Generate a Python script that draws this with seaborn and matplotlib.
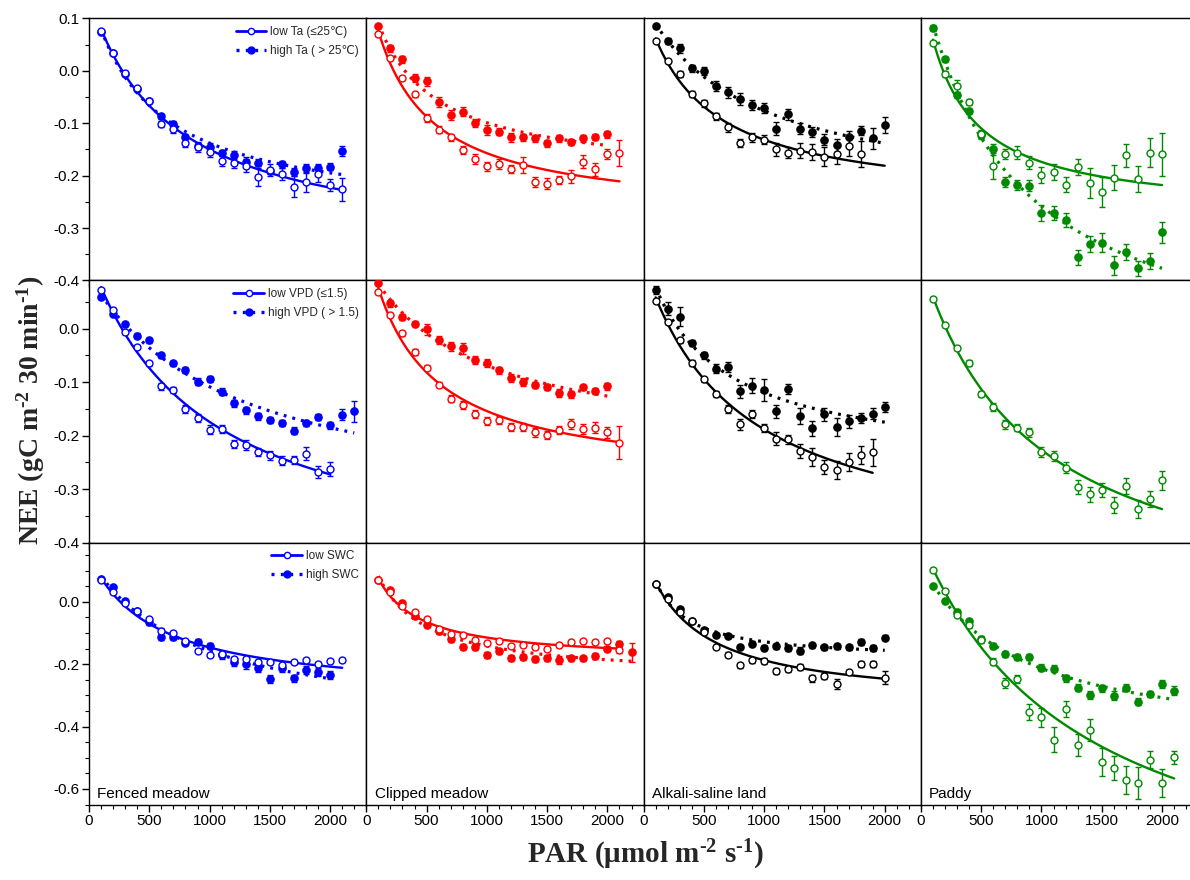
import numpy as np
import matplotlib
matplotlib.use("Agg")
import matplotlib.pyplot as plt
from matplotlib.lines import Line2D
from matplotlib.ticker import MultipleLocator, FormatStrFormatter, NullFormatter
import seaborn as sns

sns.set_theme(style="ticks")
plt.rcParams["font.family"] = ["Liberation Sans", "DejaVu Sans"]
plt.rcParams["axes.unicode_minus"] = False
plt.rcParams["mathtext.default"] = "regular"

# PAR bin centres (umol m-2 s-1)
par = np.arange(100, 2300, 100)

sites = ["Fenced meadow", "Clipped meadow", "Alkali-saline land", "Paddy"]
site_colors = ["#0000ff", "#ff0000", "#000000", "#008a00"]

# ---- air temperature split ----
ta_labels = ["low Ta (\u226425\u2103)", "high Ta ( > 25\u2103)"]
ta_fm_low = [0.076, 0.034, -0.004, -0.033, -0.057, -0.101, -0.110, -0.137, -0.146, -0.154, -0.172,
             -0.175, -0.181, -0.202, -0.189, -0.197, -0.221, -0.212, -0.197, -0.218, -0.226]
ta_fm_low_se = [0.003, 0.003, 0.003, 0.003, 0.004, 0.006, 0.008, 0.008, 0.008, 0.010, 0.010,
                0.010, 0.012, 0.017, 0.012, 0.012, 0.020, 0.020, 0.015, 0.012, 0.022]
ta_fm_high = [0.075, 0.034, -0.005, -0.034, -0.058, -0.087, -0.101, -0.127, -0.143, -0.145, -0.157,
              -0.161, -0.173, -0.175, -0.191, -0.178, -0.193, -0.186, -0.186, -0.183, -0.153]
ta_fm_high_se = [0.003, 0.003, 0.003, 0.004, 0.004, 0.005, 0.005, 0.006, 0.008, 0.007, 0.006,
                 0.008, 0.008, 0.007, 0.006, 0.007, 0.007, 0.008, 0.008, 0.007, 0.010]
ta_cm_low = [0.070, 0.024, -0.014, -0.045, -0.090, -0.112, -0.127, -0.151, -0.168, -0.182, -0.178,
             -0.187, -0.180, -0.212, -0.215, -0.208, -0.201, -0.173, -0.188, -0.159, -0.156]
ta_cm_low_se = [0.003, 0.004, 0.004, 0.005, 0.007, 0.007, 0.007, 0.008, 0.009, 0.009, 0.009,
                0.008, 0.015, 0.009, 0.010, 0.008, 0.012, 0.012, 0.013, 0.009, 0.025]
ta_cm_high = [0.086, 0.043, 0.022, -0.013, -0.020, -0.059, -0.084, -0.078, -0.100, -0.113,
              -0.116, -0.127, -0.127, -0.129, -0.138, -0.129, -0.136, -0.129, -0.126, -0.121]
ta_cm_high_se = [0.004, 0.006, 0.007, 0.008, 0.009, 0.009, 0.010, 0.009, 0.008, 0.010,
                 0.007, 0.008, 0.007, 0.007, 0.007, 0.006, 0.006, 0.006, 0.006, 0.007]
ta_al_low = [0.058, 0.019, -0.006, -0.044, -0.062, -0.087, -0.108, -0.138, -0.127, -0.131,
             -0.150, -0.156, -0.152, -0.155, -0.164, -0.159, -0.143, -0.159]
ta_al_low_se = [0.003, 0.004, 0.005, 0.005, 0.006, 0.006, 0.008, 0.008, 0.008, 0.009,
                0.012, 0.011, 0.015, 0.015, 0.018, 0.018, 0.020, 0.025]
ta_al_high = [0.085, 0.057, 0.043, 0.005, 0.000, -0.029, -0.041, -0.054, -0.065, -0.071,
              -0.110, -0.083, -0.110, -0.117, -0.131, -0.142, -0.127, -0.114, -0.129, -0.103]
ta_al_high_se = [0.004, 0.006, 0.008, 0.007, 0.007, 0.009, 0.010, 0.012, 0.010, 0.010,
                 0.012, 0.010, 0.010, 0.010, 0.010, 0.012, 0.012, 0.009, 0.020, 0.015]
ta_pd_low = [0.053, -0.006, -0.029, -0.059, -0.120, -0.181, -0.159, -0.156, -0.175, -0.198,
             -0.193, -0.217, -0.183, -0.214, -0.231, -0.204, -0.161, -0.207, -0.156, -0.159]
ta_pd_low_se = [0.004, 0.006, 0.012, 0.006, 0.008, 0.025, 0.010, 0.012, 0.012, 0.015,
                0.015, 0.015, 0.015, 0.028, 0.028, 0.024, 0.022, 0.025, 0.028, 0.041]
ta_pd_high = [0.082, 0.022, -0.046, -0.076, -0.122, -0.150, -0.212, -0.218, -0.219, -0.271,
              -0.271, -0.284, -0.356, -0.331, -0.328, -0.371, -0.345, -0.377, -0.363, -0.308]
ta_pd_high_se = [0.006, 0.005, 0.006, 0.006, 0.008, 0.010, 0.010, 0.010, 0.010, 0.015,
                 0.013, 0.013, 0.015, 0.015, 0.018, 0.018, 0.015, 0.015, 0.015, 0.020]

# ---- vapour pressure deficit split ----
vpd_labels = ["low VPD (\u22641.5)", "high VPD ( > 1.5)"]
vpd_fm_low = [0.072, 0.034, -0.006, -0.034, -0.065, -0.108, -0.115, -0.150, -0.167, -0.189,
              -0.188, -0.216, -0.218, -0.231, -0.237, -0.247, -0.246, -0.234, -0.268, -0.262]
vpd_fm_low_se = [0.003, 0.004, 0.004, 0.004, 0.004, 0.006, 0.005, 0.007, 0.007, 0.008,
                 0.007, 0.008, 0.009, 0.008, 0.008, 0.008, 0.008, 0.012, 0.012, 0.013]
vpd_fm_high = [0.059, 0.028, 0.009, -0.013, -0.022, -0.050, -0.065, -0.077, -0.099, -0.094, -0.118,
               -0.140, -0.153, -0.164, -0.171, -0.176, -0.191, -0.176, -0.165, -0.181, -0.161, -0.155]
vpd_fm_high_se = [0.004, 0.004, 0.004, 0.004, 0.005, 0.005, 0.005, 0.006, 0.007, 0.005, 0.007,
                  0.007, 0.007, 0.007, 0.006, 0.006, 0.007, 0.006, 0.006, 0.007, 0.010, 0.020]
vpd_cm_low = [0.068, 0.026, -0.009, -0.044, -0.073, -0.105, -0.131, -0.143, -0.160, -0.173, -0.171,
              -0.184, -0.184, -0.194, -0.199, -0.190, -0.178, -0.188, -0.185, -0.194, -0.213]
vpd_cm_low_se = [0.004, 0.004, 0.005, 0.005, 0.005, 0.005, 0.007, 0.007, 0.007, 0.007, 0.007,
                 0.007, 0.008, 0.008, 0.007, 0.008, 0.009, 0.009, 0.010, 0.010, 0.030]
vpd_cm_high = [0.085, 0.047, 0.022, 0.009, -0.001, -0.021, -0.033, -0.037, -0.059, -0.064,
               -0.078, -0.092, -0.100, -0.105, -0.109, -0.120, -0.123, -0.110, -0.117, -0.108]
vpd_cm_high_se = [0.004, 0.006, 0.005, 0.005, 0.010, 0.008, 0.008, 0.010, 0.008, 0.008,
                  0.007, 0.008, 0.007, 0.006, 0.005, 0.007, 0.007, 0.005, 0.006, 0.006]
vpd_al_low = [0.052, 0.012, -0.022, -0.064, -0.095, -0.122, -0.150, -0.179, -0.160, -0.186,
              -0.206, -0.207, -0.229, -0.240, -0.259, -0.264, -0.250, -0.237, -0.231]
vpd_al_low_se = [0.003, 0.004, 0.004, 0.005, 0.005, 0.005, 0.007, 0.010, 0.008, 0.008,
                 0.012, 0.008, 0.013, 0.016, 0.013, 0.017, 0.017, 0.017, 0.025]
vpd_al_high = [0.072, 0.037, 0.022, -0.027, -0.050, -0.075, -0.072, -0.117, -0.107, -0.115,
               -0.155, -0.113, -0.163, -0.186, -0.160, -0.184, -0.173, -0.167, -0.159, -0.147]
vpd_al_high_se = [0.008, 0.012, 0.018, 0.006, 0.007, 0.008, 0.010, 0.012, 0.014, 0.020,
                  0.012, 0.010, 0.015, 0.014, 0.012, 0.017, 0.012, 0.010, 0.010, 0.009]
vpd_pd_low = [0.056, 0.006, -0.036, -0.064, -0.122, -0.147, -0.179, -0.185, -0.194, -0.231,
              -0.238, -0.260, -0.296, -0.310, -0.302, -0.330, -0.295, -0.338, -0.319, -0.284]
vpd_pd_low_se = [0.003, 0.003, 0.004, 0.005, 0.006, 0.007, 0.008, 0.007, 0.009, 0.010,
                 0.010, 0.010, 0.013, 0.014, 0.013, 0.015, 0.015, 0.017, 0.015, 0.018]

# ---- soil water content split ----
swc_labels = ["low SWC", "high SWC"]
swc_fm_low = [0.069, 0.030, -0.005, -0.029, -0.056, -0.093, -0.101, -0.125, -0.157, -0.170, -0.166,
              -0.184, -0.184, -0.194, -0.192, -0.202, -0.194, -0.187, -0.200, -0.191, -0.187]
swc_fm_low_se = [0.003, 0.004, 0.005, 0.005, 0.005, 0.008, 0.006, 0.006, 0.006, 0.006, 0.006,
                 0.008, 0.008, 0.008, 0.006, 0.006, 0.006, 0.006, 0.006, 0.006, 0.006]
swc_fm_high = [0.072, 0.048, 0.003, -0.029, -0.066, -0.112, -0.114, -0.132, -0.128, -0.141,
               -0.170, -0.192, -0.200, -0.211, -0.248, -0.213, -0.246, -0.218, -0.226, -0.234]
swc_fm_high_se = [0.004, 0.005, 0.006, 0.006, 0.007, 0.012, 0.010, 0.008, 0.008, 0.010,
                  0.012, 0.014, 0.014, 0.015, 0.012, 0.013, 0.012, 0.013, 0.013, 0.013]
swc_cm_low = [0.069, 0.030, -0.013, -0.034, -0.056, -0.088, -0.104, -0.107, -0.122, -0.132, -0.125,
              -0.141, -0.138, -0.146, -0.150, -0.138, -0.130, -0.125, -0.128, -0.125, -0.155]
swc_cm_low_se = [0.003, 0.004, 0.005, 0.005, 0.005, 0.008, 0.006, 0.006, 0.006, 0.006, 0.006,
                 0.006, 0.006, 0.006, 0.006, 0.006, 0.006, 0.006, 0.006, 0.006, 0.008]
swc_cm_high = [0.069, 0.037, -0.005, -0.045, -0.074, -0.093, -0.120, -0.144, -0.146, -0.170, -0.159,
               -0.181, -0.176, -0.184, -0.181, -0.187, -0.181, -0.181, -0.175, -0.150, -0.136, -0.162]
swc_cm_high_se = [0.004, 0.006, 0.007, 0.007, 0.008, 0.010, 0.010, 0.008, 0.010, 0.010, 0.008,
                  0.010, 0.010, 0.010, 0.010, 0.012, 0.008, 0.008, 0.010, 0.008, 0.010, 0.030]
swc_al_low = [0.057, 0.009, -0.034, -0.063, -0.098, -0.144, -0.170, -0.203, -0.187, -0.191,
              -0.223, -0.216, -0.208, -0.246, -0.237, -0.264, -0.226, -0.200, -0.200, -0.243]
swc_al_low_se = [0.003, 0.004, 0.004, 0.005, 0.005, 0.006, 0.008, 0.008, 0.008, 0.010,
                 0.010, 0.010, 0.010, 0.012, 0.010, 0.015, 0.006, 0.010, 0.010, 0.020]
swc_al_high = [0.057, 0.014, -0.023, -0.061, -0.090, -0.106, -0.109, -0.146, -0.134, -0.148,
               -0.143, -0.148, -0.157, -0.139, -0.146, -0.143, -0.146, -0.128, -0.148, -0.116]
swc_al_high_se = [0.003, 0.004, 0.005, 0.005, 0.006, 0.006, 0.007, 0.007, 0.008, 0.008,
                  0.008, 0.010, 0.012, 0.008, 0.008, 0.008, 0.008, 0.010, 0.010, 0.008]
swc_pd_low = [0.103, 0.033, -0.042, -0.074, -0.122, -0.192, -0.261, -0.248, -0.353, -0.371, -0.443,
              -0.344, -0.459, -0.411, -0.515, -0.533, -0.571, -0.581, -0.506, -0.582, -0.499]
swc_pd_low_se = [0.004, 0.006, 0.008, 0.010, 0.010, 0.012, 0.015, 0.012, 0.025, 0.030, 0.040,
                 0.025, 0.035, 0.035, 0.045, 0.040, 0.045, 0.050, 0.027, 0.045, 0.020]
swc_pd_high = [0.049, 0.003, -0.032, -0.063, -0.120, -0.141, -0.168, -0.178, -0.178, -0.211, -0.214,
               -0.246, -0.275, -0.299, -0.278, -0.301, -0.275, -0.320, -0.296, -0.264, -0.285]
swc_pd_high_se = [0.004, 0.006, 0.008, 0.009, 0.010, 0.010, 0.010, 0.010, 0.010, 0.012, 0.012,
                  0.010, 0.010, 0.012, 0.012, 0.015, 0.012, 0.010, 0.010, 0.013, 0.015]

# fitted light-response curves run to this PAR when it lies past the last bin
ta_al_low_fit_end = 2000

rows = [
    dict(labels=ta_labels, ylim=(-0.4, 0.1), major=0.1,
         series=[(ta_fm_low, ta_fm_low_se, ta_fm_high, ta_fm_high_se),
                 (ta_cm_low, ta_cm_low_se, ta_cm_high, ta_cm_high_se),
                 (ta_al_low, ta_al_low_se, ta_al_high, ta_al_high_se),
                 (ta_pd_low, ta_pd_low_se, ta_pd_high, ta_pd_high_se)],
         fit_end={(2, 0): ta_al_low_fit_end}),
    dict(labels=vpd_labels, ylim=(-0.4, 0.09), major=0.1,
         series=[(vpd_fm_low, vpd_fm_low_se, vpd_fm_high, vpd_fm_high_se),
                 (vpd_cm_low, vpd_cm_low_se, vpd_cm_high, vpd_cm_high_se),
                 (vpd_al_low, vpd_al_low_se, vpd_al_high, vpd_al_high_se),
                 (vpd_pd_low, vpd_pd_low_se, None, None)],
         fit_end={}),
    dict(labels=swc_labels, ylim=(-0.65, 0.19), major=0.2,
         series=[(swc_fm_low, swc_fm_low_se, swc_fm_high, swc_fm_high_se),
                 (swc_cm_low, swc_cm_low_se, swc_cm_high, swc_cm_high_se),
                 (swc_al_low, swc_al_low_se, swc_al_high, swc_al_high_se),
                 (swc_pd_low, swc_pd_low_se, swc_pd_high, swc_pd_high_se)],
         fit_end={}),
]


def fit_light_response(x, y, se):
    """Weighted least-squares rectangular hyperbola NEE = R - a*P*Pmax/(a*P + Pmax)."""
    w = 1.0 / np.asarray(se)
    a = np.logspace(-5, -1, 200)[:, None, None]
    pm = np.logspace(-2, 1.5, 200)[None, :, None]
    g = a * x * pm / (a * x + pm)
    r = ((y + g) * w).sum(axis=-1, keepdims=True) / w.sum()
    sse = (w * (r - g - y) ** 2).sum(axis=-1)
    i, j = np.unravel_index(np.argmin(sse), sse.shape)
    a_best = a[i, 0, 0]
    pm_best = pm[0, j, 0]
    r_best = r[i, j, 0]
    return lambda p: r_best - a_best * p * pm_best / (a_best * p + pm_best)


W, H = 1190, 880
fig = plt.figure(figsize=(W / 100, H / 100), dpi=100)

left_px, top_px = 89.0, 18.5
panel_w, panel_h = 277.3, 262.0
sans = ["Liberation Sans", "DejaVu Sans"]
serif = ["Liberation Serif", "DejaVu Serif"]
dotted = (0, (0.9, 1.9))

for r, row in enumerate(rows):
    for c in range(4):
        x0 = (left_px + c * panel_w) / W
        y0 = 1 - (top_px + (r + 1) * panel_h) / H
        ax = fig.add_axes([x0, y0, panel_w / W, panel_h / H])
        color = site_colors[c]
        low, low_se, high, high_se = row["series"][c]

        for k, (vals, se) in enumerate([(low, low_se), (high, high_se)]):
            if vals is None:
                continue
            y = np.asarray(vals)
            x = par[:len(y)].astype(float)
            model = fit_light_response(x, y, se)
            x_end = row["fit_end"].get((c, k), x[-1])
            xs = np.linspace(x[0], x_end, 200)
            if k == 0:
                sns.lineplot(x=xs, y=model(xs), ax=ax, color=color, lw=1.7,
                             errorbar=None, zorder=3)
            else:
                sns.lineplot(x=xs, y=model(xs), ax=ax, color=color, lw=2.3,
                             errorbar=None, zorder=3)
                ax.lines[-1].set_linestyle(dotted)
            face = "white" if k == 0 else color
            ax.errorbar(x, y, yerr=se, fmt="o", ms=5.2 if k else 5.0,
                        mfc=face, mec=color, mew=1.0, ecolor=color,
                        elinewidth=1.0, capsize=2.2, capthick=1.0,
                        zorder=4 if k else 5)

        ax.set_xlim(0, 2300)
        ax.set_ylim(*row["ylim"])
        ax.set_xlabel("")
        ax.set_ylabel("")
        for s in ax.spines.values():
            s.set_color("black")
            s.set_linewidth(1.0)

        ax.xaxis.set_major_locator(MultipleLocator(500))
        ax.xaxis.set_minor_locator(MultipleLocator(100))
        ax.tick_params(axis="x", which="both", direction="out", bottom=True, top=False,
                       colors="black", labelsize=11, pad=2)
        ax.tick_params(axis="x", which="major", length=5, width=1)
        ax.tick_params(axis="x", which="minor", length=3, width=0.8)
        if r < 2:
            ax.xaxis.set_major_formatter(NullFormatter())
        else:
            ax.xaxis.set_major_formatter(FormatStrFormatter("%d"))
            for lab in ax.get_xticklabels():
                lab.set_fontfamily(sans)

        if c == 0:
            ax.yaxis.set_major_locator(MultipleLocator(row["major"]))
            ax.yaxis.set_minor_locator(MultipleLocator(0.05))
            ax.yaxis.set_major_formatter(FormatStrFormatter("%.1f"))
            ax.tick_params(axis="y", which="both", direction="out", left=True, right=False,
                           colors="black", labelsize=11, pad=2)
            ax.tick_params(axis="y", which="major", length=5, width=1)
            ax.tick_params(axis="y", which="minor", length=3, width=0.8)
            for lab in ax.get_yticklabels():
                lab.set_fontfamily(sans)

            handles = [
                Line2D([], [], color=color, lw=2.0, marker="o", ms=4.5, mfc="white", mec=color),
                Line2D([], [], color=color, lw=2.4, ls=dotted, marker="o", ms=5,
                       mfc=color, mec=color),
            ]
            ax.legend(handles, row["labels"], loc="upper right", frameon=False,
                      prop=dict(family=sans, size=8.5),
                      handlelength=2.6, handletextpad=0.3, labelspacing=0.55,
                      borderaxespad=0.35, borderpad=0.3)
        else:
            ax.tick_params(axis="y", which="both", left=False, right=False, labelleft=False)

        if r == 2:
            ax.text(0.03, 0.012, sites[c], transform=ax.transAxes, ha="left", va="bottom",
                    fontsize=11, family=sans, color="black")

fig.text(0.026, 0.534, "NEE (gC m$^{\u20102}$ 30 min$^{\u20101}$)", rotation=90,
         ha="center", va="center", fontsize=20, fontweight="bold", family=serif)
fig.text(0.542, 0.028, "PAR (\u03bcmol m$^{\u20102}$ s$^{\u20101}$)", ha="center", va="center",
         fontsize=21, fontweight="bold", family=serif)

fig.savefig("out.png", dpi=100, facecolor="white")
